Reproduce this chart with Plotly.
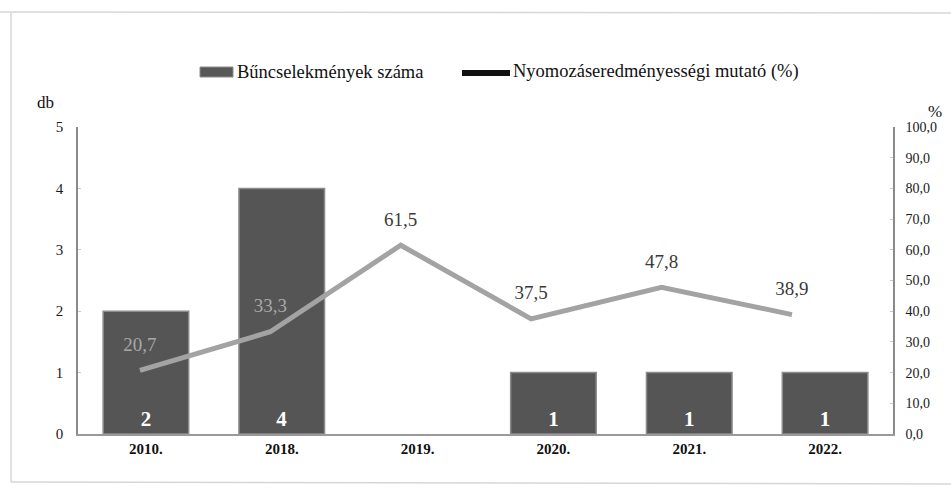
import plotly.graph_objects as go

categories = ["2010.", "2018.", "2019.", "2020.", "2021.", "2022."]
crime_counts = [2, 4, None, 1, 1, 1]
clearance_rate = [20.7, 33.3, 61.5, 37.5, 47.8, 38.9]
rate_label_colors = ["#a8a8a8", "#a8a8a8", "#3a3a3a", "#3a3a3a", "#3a3a3a", "#3a3a3a"]
left_ticks = [0, 1, 2, 3, 4, 5]
right_ticks = [0, 10, 20, 30, 40, 50, 60, 70, 80, 90, 100]

FONT = "Liberation Serif"
W, H = 951, 489
L, R, T, B = 78, 58, 127, 55


def px_x(px):
    return (px - L) / (W - L - R)


def px_y(py):
    return (H - B - py) / (H - T - B)


fig = go.Figure()

fig.add_trace(go.Bar(
    x=categories, y=crime_counts,
    text=[str(v) if v is not None else "" for v in crime_counts],
    textposition="inside", insidetextanchor="start",
    textfont=dict(family=FONT, size=21, color="white", weight="bold"),
    marker=dict(color="#555555", line=dict(color="#8c8c8c", width=1.5)),
    width=0.63, showlegend=False, cliponaxis=False,
    xaxis="x", yaxis="y",
))

fig.add_trace(go.Scatter(
    x=categories, y=clearance_rate,
    mode="lines+markers+text",
    text=[f"{v:.1f}".replace(".", ",") for v in clearance_rate],
    textposition="top center",
    textfont=dict(family=FONT, size=19, color=rate_label_colors),
    line=dict(color="#a3a3a3", width=5),
    marker=dict(size=22, color="rgba(0,0,0,0)"),
    showlegend=False, cliponaxis=False,
    xaxis="x2", yaxis="y2",
))

fig.update_layout(
    width=W, height=H, autosize=False,
    margin=dict(l=L, r=R, t=T, b=B),
    paper_bgcolor="white", plot_bgcolor="white",
    separators=", ",
    font=dict(family=FONT, color="#222222", size=13),
    showlegend=False,
    xaxis=dict(
        type="category", categoryorder="array", categoryarray=categories,
        range=[-0.5, 5.5],
        showline=True, linecolor="#9a9a9a", linewidth=1.5,
        ticks="", showgrid=False, zeroline=False,
        tickfont=dict(family=FONT, size=15, color="#111111", weight="bold"),
    ),
    xaxis2=dict(
        type="category", categoryorder="array", categoryarray=categories,
        overlaying="x", range=[-0.475, 5.775],
        visible=False,
    ),
    yaxis=dict(
        range=[0, 5], tickvals=left_ticks,
        showline=True, linecolor="#8a8a8a", linewidth=1.5,
        ticks="inside", ticklen=3, tickcolor="#c8c8c8",
        showgrid=False, zeroline=False,
        ticklabelstandoff=10,
        tickfont=dict(family=FONT, size=15, color="#1a1a1a"),
    ),
    yaxis2=dict(
        range=[0, 100], tickvals=right_ticks, tickformat=".1f",
        overlaying="y", side="right",
        showline=True, linecolor="#8a8a8a", linewidth=1.5,
        ticks="inside", ticklen=3, tickcolor="#c8c8c8",
        showgrid=False, zeroline=False,
        ticklabelstandoff=8,
        tickfont=dict(family=FONT, size=14, color="#1a1a1a"),
    ),
)

# frame lines of the scanned chart box
frame = dict(type="line", xref="paper", yref="paper", line=dict(color="#d6d6d6", width=1.5))
fig.add_shape(**frame, x0=px_x(0), x1=px_x(951), y0=px_y(12), y1=px_y(13))
fig.add_shape(**frame, x0=px_x(11), x1=px_x(11), y0=px_y(13), y1=px_y(482))
fig.add_shape(**frame, x0=px_x(11), x1=px_x(951), y0=px_y(482), y1=px_y(484))

# manual legend
fig.add_shape(type="rect", xref="paper", yref="paper",
              x0=px_x(200), x1=px_x(233), y0=px_y(77), y1=px_y(67),
              fillcolor="#585858", line=dict(color="#8c8c8c", width=1))
fig.add_annotation(xref="paper", yref="paper", x=px_x(235), y=px_y(72),
                   xanchor="left", yanchor="middle", showarrow=False,
                   text="Bűncselekmények száma",
                   font=dict(family=FONT, size=18.5, color="#111111"))
fig.add_shape(type="line", xref="paper", yref="paper",
              x0=px_x(462), x1=px_x(510), y0=px_y(73), y1=px_y(73),
              line=dict(color="#111111", width=6))
fig.add_annotation(xref="paper", yref="paper", x=px_x(511), y=px_y(72),
                   xanchor="left", yanchor="middle", showarrow=False,
                   text="Nyomozáseredményességi mutató (%)",
                   font=dict(family=FONT, size=18.5, color="#111111"))

# axis unit labels
fig.add_annotation(xref="paper", yref="paper", x=px_x(45), y=px_y(103),
                   xanchor="center", yanchor="middle", showarrow=False,
                   text="db", font=dict(family=FONT, size=17, color="#111111"))
fig.add_annotation(xref="paper", yref="paper", x=px_x(935), y=px_y(111),
                   xanchor="center", yanchor="middle", showarrow=False,
                   text="%", font=dict(family=FONT, size=17, color="#111111"))

fig.write_html(
    "out.html",
    config={"displayModeBar": False},
    post_script="document.body.style.margin='0';document.body.style.overflow='hidden';",
)
